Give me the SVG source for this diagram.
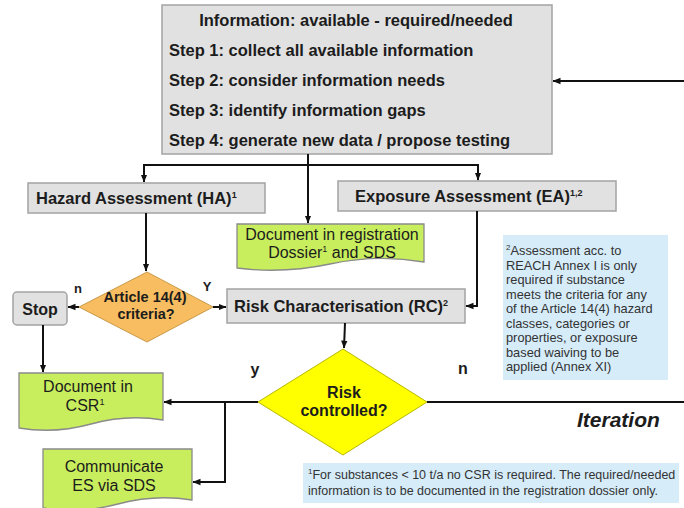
<svg xmlns="http://www.w3.org/2000/svg" width="684" height="508" viewBox="0 0 684 508">
  <defs>
    <marker id="arrow" markerUnits="userSpaceOnUse" markerWidth="8" markerHeight="8" viewBox="0 0 8 8" refX="7.5" refY="4" orient="auto">
      <path d="M0,0.8 L8,4 L0,7.2 Z" fill="#111"/>
    </marker>
    <style>
      .box { fill: #e1e1e1; stroke: #a3a3a3; stroke-width: 1.5; }
      .doc { fill: #c8ee5e; stroke: #8a8a8a; stroke-width: 1.3; }
      .note { fill: #d6ecf9; }
      .b { font-family: "Liberation Sans", Arial, sans-serif; font-weight: bold; fill: #1c1c1c; }
      .r { font-family: "Liberation Sans", Arial, sans-serif; fill: #1c1c1c; }
      .n { font-family: "Liberation Sans", Arial, sans-serif; fill: #333; }
      .line { fill: none; stroke: #111; stroke-width: 2; }
    </style>
  </defs>
  <rect width="684" height="508" fill="#fff"/>

  <!-- information steps -->
  <g id="info">
    <rect class="box" x="162" y="5" width="390" height="149"/>
    <text class="b" font-size="16.5" x="356" y="26" text-anchor="middle">Information: available - required/needed</text>
    <text class="b" font-size="16.5" x="169" y="56">Step 1: collect all available information</text>
    <text class="b" font-size="16.5" x="169" y="86">Step 2: consider information needs</text>
    <text class="b" font-size="16.5" x="169" y="116">Step 3: identify information gaps</text>
    <text class="b" font-size="16.5" x="169" y="146">Step 4: generate new data / propose testing</text>
  </g>

  <g id="hazard">
    <rect class="box" x="28" y="183" width="237" height="30"/>
    <text class="b" font-size="16.5" x="36" y="204">Hazard Assessment (HA)<tspan font-size="9" dy="-6">1</tspan></text>
  </g>

  <g id="exposure">
    <rect class="box" x="338" y="181" width="278" height="30"/>
    <text class="b" font-size="16.5" x="355" y="202">Exposure Assessment (EA)<tspan font-size="9" dy="-6">1,2</tspan></text>
  </g>

  <g id="doc-dossier">
    <path class="doc" d="M237,224 H424 V262 Q377,254 330,264 T237,268 Z"/>
    <text class="r" font-size="16" x="332" y="240" text-anchor="middle">Document in registration</text>
    <text class="r" font-size="16" x="332" y="258" text-anchor="middle">Dossier<tspan font-size="9" dy="-6">1</tspan><tspan dy="6"> and SDS</tspan></text>
  </g>

  <g id="article">
    <polygon points="147,272 213,307 147,342 79,307" fill="#f8bd60" stroke="#c99a4a" stroke-width="1"/>
    <text class="b" font-size="14.5" x="145" y="302" text-anchor="middle" fill="#3a2c12">Article 14(4)</text>
    <text class="b" font-size="14.5" x="146" y="319" text-anchor="middle" fill="#3a2c12">criteria?</text>
  </g>

  <g id="stop">
    <rect class="box" x="13" y="292" width="54" height="33" rx="4" stroke="#7a7a7a"/>
    <text class="b" font-size="16" x="40" y="315" text-anchor="middle">Stop</text>
  </g>

  <g id="risk-char">
    <rect class="box" x="227" y="289" width="238" height="34"/>
    <text class="b" font-size="16.5" x="234" y="312">Risk Characterisation (RC)<tspan font-size="9" dy="-6">2</tspan></text>
  </g>

  <g id="risk-controlled">
    <polygon points="343,349 427,402 343,455 258,402" fill="#ffff00" stroke="#b8b800" stroke-width="1"/>
    <text class="b" font-size="16" x="344" y="398" text-anchor="middle">Risk</text>
    <text class="b" font-size="16" x="344" y="416" text-anchor="middle">controlled?</text>
  </g>

  <g id="doc-csr">
    <path class="doc" d="M19,373 H163 V420 Q127,414 91,424 T19,428 Z"/>
    <text class="r" font-size="16" x="88" y="392" text-anchor="middle">Document in</text>
    <text class="r" font-size="16" x="85" y="411" text-anchor="middle">CSR<tspan font-size="9" dy="-6">1</tspan></text>
  </g>

  <g id="doc-sds">
    <path class="doc" d="M43,449 H192 V500 Q155,494 118,504 T43,508 Z"/>
    <text class="r" font-size="16" x="114" y="472" text-anchor="middle">Communicate</text>
    <text class="r" font-size="16" x="114" y="491" text-anchor="middle">ES via SDS</text>
  </g>

  <g id="note-annex">
    <rect class="note" x="503" y="235" width="165" height="145"/>
    <g class="n" font-size="12.8">
      <text x="506" y="255"><tspan font-size="8" dy="-5">2</tspan><tspan dy="5">Assessment acc. to</tspan></text>
      <text x="506" y="269.5">REACH Annex I is only</text>
      <text x="506" y="284">required if substance</text>
      <text x="506" y="298.5">meets the criteria for any</text>
      <text x="506" y="313">of the Article 14(4) hazard</text>
      <text x="506" y="327.5">classes, categories or</text>
      <text x="506" y="342">properties, or exposure</text>
      <text x="506" y="356.5">based waiving to be</text>
      <text x="506" y="371">applied (Annex XI)</text>
    </g>
  </g>

  <g id="note-csr">
    <rect class="note" x="303" y="463" width="376" height="40"/>
    <g class="n" font-size="12.5">
      <text x="308" y="479"><tspan font-size="8" dy="-5">1</tspan><tspan dy="5">For substances  &lt; 10 t/a no CSR is required. The required/needed</tspan></text>
      <text x="308" y="495">information is to be documented in the registration dossier only.</text>
    </g>
  </g>

  <!-- labels on branches -->
  <g id="labels">
    <text class="b" font-size="13" x="78" y="293" text-anchor="middle">n</text>
    <text class="b" font-size="13" x="207" y="291" text-anchor="middle">Y</text>
    <text class="b" font-size="16" x="255" y="375" text-anchor="middle">y</text>
    <text class="b" font-size="16" x="463" y="374" text-anchor="middle">n</text>
    <text class="b" font-size="21" x="577" y="427" font-style="italic">Iteration</text>
  </g>

  <!-- connectors -->
  <g id="connectors">
    <line class="line" x1="684" y1="81" x2="553" y2="81" marker-end="url(#arrow)"/>
    <line class="line" x1="308" y1="154" x2="308" y2="223" marker-end="url(#arrow)"/>
    <polyline class="line" points="308,165 144,165 144,182" marker-end="url(#arrow)"/>
    <polyline class="line" points="308,165 478,165 478,180" marker-end="url(#arrow)"/>
    <line class="line" x1="146" y1="213" x2="146" y2="271" marker-end="url(#arrow)"/>
    <polyline class="line" points="477,211 477,306 466,306" marker-end="url(#arrow)"/>
    <line class="line" x1="79" y1="307" x2="68" y2="307" marker-end="url(#arrow)"/>
    <line class="line" x1="213" y1="307" x2="226" y2="307" marker-end="url(#arrow)"/>
    <line class="line" x1="43" y1="325" x2="43" y2="372" marker-end="url(#arrow)"/>
    <line class="line" x1="345" y1="323" x2="344" y2="348" marker-end="url(#arrow)"/>
    <line class="line" x1="258" y1="402" x2="164" y2="402" marker-end="url(#arrow)"/>
    <polyline class="line" points="225,402 225,482 193,482" marker-end="url(#arrow)"/>
    <line class="line" x1="427" y1="402" x2="684" y2="402"/>
  </g>
</svg>
